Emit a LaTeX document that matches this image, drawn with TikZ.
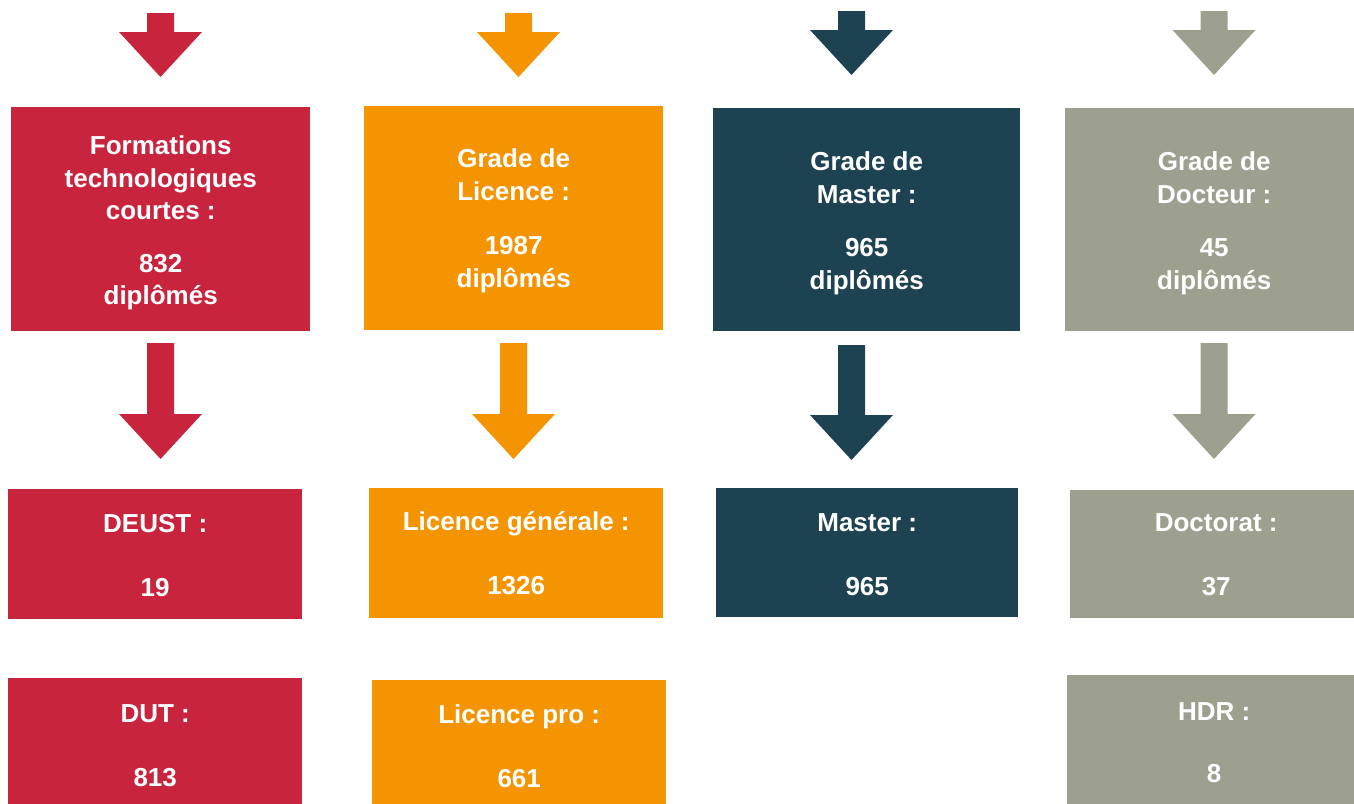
\documentclass[tikz,border=0pt]{standalone}
\usepackage{fontspec}
\setmainfont{Liberation Sans}
\definecolor{cred}{RGB}{200,36,62}
\definecolor{corange}{RGB}{243,148,0}
\definecolor{cteal}{RGB}{29,67,82}
\definecolor{cgray}{RGB}{157,159,143}
\newcommand\blkarrow[5]{%
  \fill[#1] ({#2-13.5},#3) -- ({#2+13.5},#3) -- ({#2+13.5},#4) -- ({#2+41.5},#4)
    -- (#2,#5) -- ({#2-41.5},#4) -- ({#2-13.5},#4) -- cycle;}
\newcommand\lift[1]{\rule{0pt}{#1pt}}
\begin{document}
\begin{tikzpicture}[x=1pt,y=-1pt,
  box/.style={fill=#1, draw=none, text=white,
    font=\bfseries\fontsize{26}{32.5}\selectfont, align=center,
    inner sep=0pt, anchor=north west}]
\useasboundingbox (0,0) rectangle (1354,803);
\clip (0,0) rectangle (1354,803);
\fill[white] (0,0) rectangle (1354,803);

% column 1
\blkarrow{cred}{160.5}{13}{32}{77}
\node[box=cred, minimum width=299pt, minimum height=224pt] (f1) at (11,107)
  {\lift{26}Formations\\technologiques\\courtes :\\[20pt]832\\diplômés};
\blkarrow{cred}{160.5}{343}{414}{459}
\node[box=cred, minimum width=294pt, minimum height=130pt] (f2) at (8,489)
  {\lift{21}DEUST :\\[31.5pt]19};
\node[box=cred, minimum width=294pt, minimum height=131pt] (f3) at (8,678)
  {\lift{21}DUT :\\[31.5pt]813};

% column 2
\blkarrow{corange}{518.5}{13}{32}{77}
\node[box=corange, minimum width=299pt, minimum height=224pt] (l1) at (364,106)
  {\lift{24}Grade de\\Licence :\\[22pt]1987\\diplômés};
\blkarrow{corange}{513.5}{343}{414}{459}
\node[box=corange, minimum width=294pt, minimum height=130pt] (l2) at (369,488)
  {Licence générale :\\[31.5pt]1326};
\node[box=corange, minimum width=294pt, minimum height=131pt] (l3) at (372,680)
  {Licence pro :\\[31.5pt]661};

% column 3
\blkarrow{cteal}{851.5}{11}{30}{75}
\node[box=cteal, minimum width=307pt, minimum height=223pt] (m1) at (713,108)
  {\lift{26}Grade de\\[0.5pt]Master :\\[20.5pt]965\\[0.5pt]diplômés};
\blkarrow{cteal}{851.5}{345}{415}{460}
\node[box=cteal, minimum width=302pt, minimum height=129pt] (m2) at (716,488)
  {\lift{21}Master :\\[31.5pt]965};

% column 4
\blkarrow{cgray}{1214}{11}{30}{75}
\node[box=cgray, minimum width=298pt, minimum height=223pt] (d1) at (1065,108)
  {\lift{26}Grade de\\[0.5pt]Docteur :\\[20.5pt]45\\[0.5pt]diplômés};
\blkarrow{cgray}{1214}{343}{414}{459}
\node[box=cgray, minimum width=292pt, minimum height=128pt] (d2) at (1070,490)
  {Doctorat :\\[31.5pt]37};
\node[box=cgray, minimum width=294pt, minimum height=134pt] (d3) at (1067,675)
  {HDR :\\[29.5pt]8};
\end{tikzpicture}
\end{document}
